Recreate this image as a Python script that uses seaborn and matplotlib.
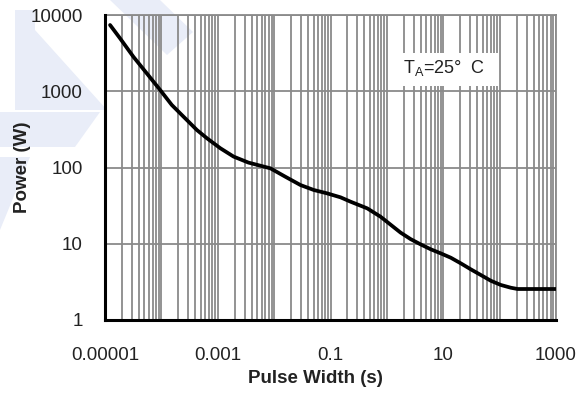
import numpy as np
import pandas as pd
import matplotlib
matplotlib.use("Agg")
import matplotlib.pyplot as plt
import seaborn as sns
from matplotlib.ticker import LogLocator, FixedLocator, FixedFormatter, NullFormatter
from matplotlib.patches import Polygon, Rectangle

# ── Données ──────────────────────────────────────────────────
pulse_width = [1.23e-5, 1.85e-5, 3.18e-5, 5.5e-5, 9.5e-5, 1.53e-4, 2.47e-4, 4.27e-4,
               6.43e-4, 1.11e-3, 1.91e-3, 3.5e-3, 8.6e-3, 1.58e-2, 2.93e-2, 5.05e-2,
               8.71e-2, 0.151, 0.227, 0.449, 0.774, 1.75, 2.64, 3.98, 6.0, 9.03,
               13.6, 20.5, 30.8, 46.4, 69.9, 105, 158, 208, 1000]
power = [7390, 4940, 2840, 1720, 1040, 661, 464, 310,
         242, 179, 139, 116, 97.5, 75.7, 58.9, 50.7,
         45.8, 40.6, 35.6, 29.1, 22.6, 14.0, 11.5, 9.8, 8.46, 7.48,
         6.56, 5.53, 4.62, 3.89, 3.27, 2.88, 2.65, 2.55, 2.55]

x_decades = [1e-5, 1e-4, 1e-3, 1e-2, 1e-1, 1, 10, 100, 1000]
x_labels = ["0.00001", "", "0.001", "", "0.1", "", "10", "", "1000"]
y_decades = [1, 10, 100, 1000, 10000]
y_labels = ["1", "10", "100", "1000", "10000"]

df = pd.DataFrame({"Pulse Width (s)": pulse_width, "Power (W)": power})

# ── Style ────────────────────────────────────────────────────
sns.set_style("white")
plt.rcParams["font.family"] = ["Liberation Sans", "DejaVu Sans"]

fig = plt.figure(figsize=(5.85, 3.94), dpi=100)
ax = fig.add_axes([105 / 585, 1 - 320 / 394, 451 / 585, 305 / 394])
ax.patch.set_alpha(0)

# filigrane bleu clair en arrière-plan
wm = "#e9edf8"
W, H = 585, 394
shapes = [
    [(110, 0), (160, 0), (193, 32), (167, 55)],
    [(15, 10), (35, 10), (35, 30), (107, 110), (15, 110)],
    [(0, 112), (100, 112), (75, 147), (0, 147)],
    [(0, 157), (30, 157), (0, 230)],
]
for pts in shapes:
    fig.patches.append(Polygon([(px / W, 1 - py / H) for px, py in pts],
                               closed=True, transform=fig.transFigure,
                               facecolor=wm, edgecolor="none", zorder=-10))

sns.lineplot(data=df, x="Pulse Width (s)", y="Power (W)", ax=ax,
             color="black", linewidth=2.7, zorder=5,
             solid_joinstyle="round", solid_capstyle="round")

ax.set_xscale("log")
ax.set_yscale("log")
ax.set_xlim(1e-5, 1e3)
ax.set_ylim(1, 1e4)

ax.xaxis.set_major_locator(FixedLocator(x_decades))
ax.xaxis.set_major_formatter(FixedFormatter(x_labels))
ax.xaxis.set_minor_locator(LogLocator(base=10, subs=np.arange(2, 10), numticks=20))
ax.xaxis.set_minor_formatter(NullFormatter())
ax.yaxis.set_major_locator(FixedLocator(y_decades))
ax.yaxis.set_major_formatter(FixedFormatter(y_labels))
ax.yaxis.set_minor_locator(FixedLocator([]))

grid_c = "#8a8a8a"
ax.grid(which="major", axis="both", color=grid_c, linewidth=1.3)
ax.grid(which="minor", axis="x", color=grid_c, linewidth=1.3)

for side in ["top", "right"]:
    ax.spines[side].set_color(grid_c)
    ax.spines[side].set_linewidth(1.3)
for side in ["left", "bottom"]:
    ax.spines[side].set_color("black")
    ax.spines[side].set_linewidth(2.2)
    ax.spines[side].set_zorder(6)

ax.tick_params(axis="both", which="both", length=0, labelsize=13.5, colors="#222222")
ax.tick_params(axis="y", pad=16)
ax.tick_params(axis="x", pad=19.5)

ax.set_xlabel("Pulse Width (s)", fontsize=13.5, fontweight="bold", color="#222222")
ax.set_ylabel("Power (W)", fontsize=13.5, fontweight="bold", color="#222222")
ax.xaxis.set_label_coords(0.466, -0.164)
ax.yaxis.set_label_coords(-0.163, 0.5)

# encadré blanc pour la température
ax.add_patch(Rectangle((0.6275, 0.767), 0.2435, 0.108, transform=ax.transAxes,
                       facecolor="white", edgecolor="none", zorder=7))
ax.text(0.661, 0.826, "T$_\\mathregular{A}$=25°  C", transform=ax.transAxes,
        fontsize=13, va="center", ha="left", zorder=8, color="#222222")

fig.savefig("out.png", dpi=100)
